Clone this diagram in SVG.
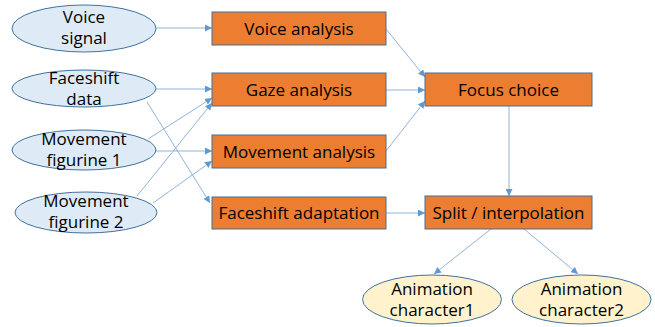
<svg xmlns="http://www.w3.org/2000/svg" width="655" height="327" viewBox="0 0 655 327">
<defs>
<marker id="ah" viewBox="0 0 10 10" refX="10" refY="5" markerWidth="7" markerHeight="7" orient="auto" markerUnits="userSpaceOnUse"><path d="M0,0 L10,5 L0,10 z" fill="#5b9bd5"/></marker>
<style>
.in{fill:#deebf7;stroke:#41719c;stroke-width:1}
.out{fill:#fff2cc;stroke:#41719c;stroke-width:1}
.box{fill:#ed7d31;stroke:#41719c;stroke-width:1}
text{font-family:"Open Sans","Liberation Sans",sans-serif;font-size:17px;fill:#000;text-anchor:middle}
.c line{stroke:#8fb3dc;stroke-width:1;marker-end:url(#ah)}
</style>
</defs>
<rect width="655" height="327" fill="#fff"/>
<g class="c" id="connectors">
<line x1="156" y1="28" x2="212" y2="28"/>
<line x1="156" y1="89" x2="212" y2="89"/>
<line x1="147" y1="102" x2="210" y2="203"/>
<line x1="148" y1="139" x2="212" y2="98"/>
<line x1="156" y1="151" x2="212" y2="151"/>
<line x1="137" y1="196" x2="212" y2="103"/>
<line x1="153" y1="203" x2="212" y2="161"/>
<line x1="386" y1="29" x2="425" y2="77"/>
<line x1="386" y1="90" x2="425" y2="90"/>
<line x1="386" y1="151" x2="425" y2="101"/>
<line x1="509" y1="106" x2="509" y2="196"/>
<line x1="386" y1="213" x2="425" y2="213"/>
<line x1="491" y1="229" x2="434" y2="274"/>
<line x1="524" y1="229" x2="578" y2="274"/>
</g>
<g id="voice-signal"><ellipse class="in" cx="84" cy="28.5" rx="72" ry="23.5"/><text x="84" y="23">Voice</text><text x="84" y="44">signal</text></g>
<g id="faceshift-data"><ellipse class="in" cx="84" cy="88.5" rx="72" ry="18.5"/><text x="84" y="84">Faceshift</text><text x="84" y="105">data</text></g>
<g id="movement-figurine-1"><ellipse class="in" cx="84" cy="150" rx="72" ry="20"/><text x="84" y="145">Movement</text><text x="84" y="166">figurine 1</text></g>
<g id="movement-figurine-2"><ellipse class="in" cx="86" cy="212.5" rx="71" ry="20.5"/><text x="86" y="207">Movement</text><text x="86" y="228">figurine 2</text></g>
<g id="voice-analysis"><rect class="box" x="212" y="12" width="174" height="33"/><text x="299" y="34.5">Voice analysis</text></g>
<g id="gaze-analysis"><rect class="box" x="212" y="73" width="174" height="33"/><text x="299" y="95.5">Gaze analysis</text></g>
<g id="movement-analysis"><rect class="box" x="212" y="135" width="174" height="33"/><text x="299" y="157.5">Movement analysis</text></g>
<g id="faceshift-adaptation"><rect class="box" x="212" y="197" width="174" height="32"/><text x="299" y="219">Faceshift adaptation</text></g>
<g id="focus-choice"><rect class="box" x="425" y="73" width="167" height="33"/><text x="508.5" y="95.5">Focus choice</text></g>
<g id="split-interpolation"><rect class="box" x="425" y="196" width="167" height="33"/><text x="508.5" y="218.5">Split / interpolation</text></g>
<g id="animation-character1"><ellipse class="out" cx="432" cy="299.5" rx="69.5" ry="24.5"/><text x="432" y="295">Animation</text><text x="432" y="316">character1</text></g>
<g id="animation-character2"><ellipse class="out" cx="581.5" cy="299.5" rx="69.5" ry="24.5"/><text x="581.5" y="295">Animation</text><text x="581.5" y="316">character2</text></g>
</svg>
